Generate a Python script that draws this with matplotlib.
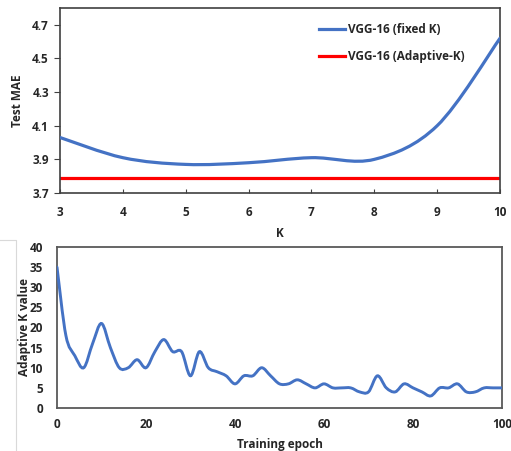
import matplotlib
matplotlib.use("Agg")
import matplotlib.pyplot as plt
from matplotlib.path import Path
from matplotlib.patches import PathPatch
from matplotlib.lines import Line2D

plt.rcParams['font.family'] = ['Open Sans', 'DejaVu Sans']
plt.rcParams['font.weight'] = 'bold'
plt.rcParams['axes.labelweight'] = 'bold'

# top panel: test MAE vs fixed K
k_values = [3, 4, 5, 6, 7, 8, 9, 10]
mae_fixed = [4.03, 3.91, 3.87, 3.88, 3.91, 3.90, 4.10, 4.62]
mae_adaptive = 3.79

# bottom panel: adaptive K per training epoch
epochs = list(range(0, 101, 2))
k_adaptive = [35, 18, 13, 10, 16, 21, 15, 10, 10, 12,
              10, 14, 17, 14, 14, 8, 14, 10, 9, 8,
              6, 8, 8, 10, 8, 6, 6, 7, 6, 5,
              6, 5, 5, 5, 4, 4, 8, 5, 4, 6,
              5, 4, 3, 5, 5, 6, 4, 4, 5, 5, 5]

BLUE = '#4472C4'
RED = '#FF0000'
TXT = '#262626'
FS = 8.5


def smooth_path(xs, ys):
    # excel style smoothed line: bezier segments through every point
    verts = [(xs[0], ys[0])]
    codes = [Path.MOVETO]
    n = len(xs)
    for i in range(n - 1):
        x0, y0 = xs[max(i - 1, 0)], ys[max(i - 1, 0)]
        x1, y1 = xs[i], ys[i]
        x2, y2 = xs[i + 1], ys[i + 1]
        x3, y3 = xs[min(i + 2, n - 1)], ys[min(i + 2, n - 1)]
        c1 = (x1 + (x2 - x0) / 6, y1 + (y2 - y0) / 6)
        c2 = (x2 - (x3 - x1) / 6, y2 - (y3 - y1) / 6)
        verts += [c1, c2, (x2, y2)]
        codes += [Path.CURVE4] * 3
    return Path(verts, codes)


fig = plt.figure(figsize=(5.11, 4.51), dpi=100)

# ---- top
ax1 = fig.add_axes([60 / 511, 1 - 193 / 451, 440 / 511, 185 / 451])
ax1.add_patch(PathPatch(smooth_path(k_values, mae_fixed), fill=False,
                        edgecolor=BLUE, lw=2.3, capstyle='round', zorder=3))
ax1.plot([k_values[0], k_values[-1]], [mae_adaptive, mae_adaptive],
         color=RED, lw=2.3, zorder=2)
ax1.set_xlim(3, 10)
ax1.set_ylim(3.7, 4.8)
ax1.set_xticks(k_values)
ax1.set_yticks([3.7, 3.9, 4.1, 4.3, 4.5, 4.7])
ax1.set_yticklabels(['3.7', '3.9', '4.1', '4.3', '4.5', '4.7'])
ax1.tick_params(axis='x', direction='in', length=3, pad=9, labelsize=FS,
                colors='#404040', labelcolor=TXT)
ax1.tick_params(axis='y', direction='out', length=4, pad=4, labelsize=FS,
                colors='#404040', labelcolor=TXT)
for s in ax1.spines.values():
    s.set_color('#404040')
    s.set_linewidth(1.2)
ax1.set_xlabel('K', fontsize=FS, color=TXT, labelpad=6)
ax1.set_ylabel('Test MAE', fontsize=FS, color=TXT, labelpad=6)

handles = [Line2D([], [], color=BLUE, lw=2.3), Line2D([], [], color=RED, lw=2.3)]
ax1.legend(handles, ['VGG-16 (fixed K)', 'VGG-16 (Adaptive-K)'],
           loc='upper left', bbox_to_anchor=(0.565, 0.975), frameon=False,
           fontsize=FS, handlelength=2.2, handletextpad=0.25,
           labelspacing=1.15, labelcolor=TXT)

# ---- bottom
ax2 = fig.add_axes([57 / 511, 1 - 408 / 451, 445 / 511, 161 / 451])
ax2.add_patch(PathPatch(smooth_path(epochs, k_adaptive), fill=False,
                        edgecolor=BLUE, lw=2.1, capstyle='round', zorder=3))
ax2.set_xlim(0, 100)
ax2.set_ylim(0, 40)
ax2.set_xticks(range(0, 101, 20))
ax2.set_yticks(range(0, 41, 5))
ax2.tick_params(length=0, labelsize=FS, labelcolor=TXT)
ax2.tick_params(axis='x', pad=7)
ax2.tick_params(axis='y', pad=10)
for s in ax2.spines.values():
    s.set_color('#595959')
    s.set_linewidth(1.3)
ax2.set_xlabel('Training epoch', fontsize=FS, color=TXT, labelpad=5)
ax2.set_ylabel('Adaptive K value', fontsize=FS, color=TXT, labelpad=-1)

# faint frame edge left over from the source image
fig.add_artist(Line2D([0, 16 / 511, 16 / 511], [1 - 240 / 451, 1 - 240 / 451, 0],
                      transform=fig.transFigure, color='#d9d9d9', lw=0.8))

fig.savefig('out.png', dpi=100)
